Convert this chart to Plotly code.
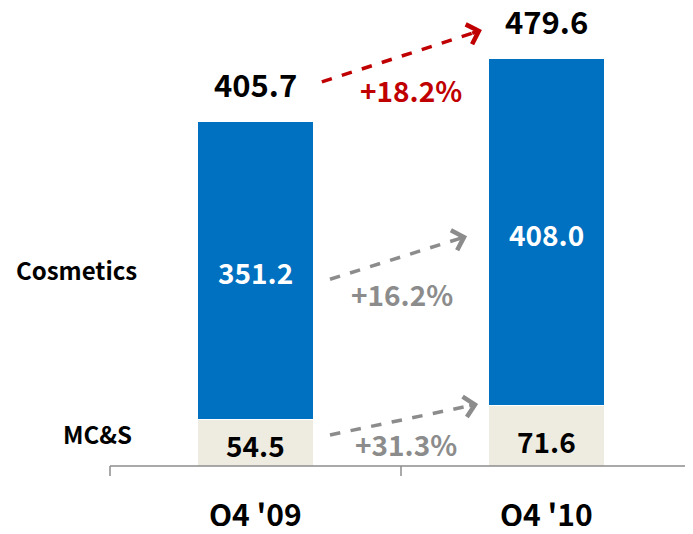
import plotly.graph_objects as go

categories = ["Q4 '09", "Q4 '10"]
mcs = [54.5, 71.6]
cosmetics = [351.2, 408.0]
totals = [405.7, 479.6]
growth_labels = ["+18.2%", "+16.2%", "+31.3%"]
series_names = ["MC&S", "Cosmetics"]

BLUE = "#0070C0"
BEIGE = "#EEECE1"
RED = "#C00000"
GRAY = "#8C8C8C"
FONT = "Noto Sans CJK KR, Noto Sans, sans-serif"

xs = [0, 1]
fig = go.Figure()
fig.add_trace(go.Bar(x=xs, y=mcs, width=0.4, marker=dict(color=BEIGE, line=dict(color="white", width=1)),
                     hoverinfo="skip", name=series_names[0]))
fig.add_trace(go.Bar(x=xs, y=cosmetics, width=0.4, marker=dict(color=BLUE, line=dict(color="white", width=1)),
                     hoverinfo="skip", name=series_names[1]))

ann = []
shapes = []
# value labels
for i in range(2):
    ann.append(dict(x=xs[i], y=totals[i], text=f"<b>{totals[i]:.1f}</b>", showarrow=False,
                    yanchor="middle", yshift=38, font=dict(size=31, color="black", family=FONT)))
    ann.append(dict(x=xs[i], y=mcs[i] + cosmetics[i] / 2, text=f"<b>{cosmetics[i]:.1f}</b>", showarrow=False,
                    yanchor="middle", yshift=-2, font=dict(size=28, color="white", family=FONT)))
    ann.append(dict(x=xs[i], y=mcs[i] / 2, text=f"<b>{mcs[i]:.1f}</b>", showarrow=False,
                    yanchor="middle", yshift=-2 - 3 * i, font=dict(size=28, color="black", family=FONT)))
    ann.append(dict(x=xs[i], y=0, text=f"<b>{categories[i]}</b>", showarrow=False,
                    yanchor="middle", yshift=-47, font=dict(size=30, color="black", family=FONT)))

# series labels on the left
ann.append(dict(x=-0.165, xref="paper", y=mcs[0] + cosmetics[0] / 2, text="<b>Cosmetics</b>", showarrow=False,
                xanchor="left", yanchor="middle", yshift=1, font=dict(size=24, color="black", family=FONT)))
ann.append(dict(x=-0.084, xref="paper", y=mcs[0] / 2, text="<b>MC&S</b>", showarrow=False,
                xanchor="left", yanchor="middle", yshift=9, font=dict(size=24, color="black", family=FONT)))

# growth arrows: (start x, start y, tip x, tip y, color, label x, label y)
arrows = [
    (0.228, totals[0] + 46, 0.778, totals[1] + 33, RED, 0.534, totals[0] + 37),
    (0.256, mcs[0] + cosmetics[0] * 0.47, 0.727, mcs[1] + cosmetics[1] * 0.487, GRAY, 0.503, mcs[0] + cosmetics[0] * 0.42),
    (0.256, mcs[0] * 0.67, 0.765, mcs[1] + 1.3, GRAY, 0.517, mcs[0] * 0.475),
]
for (sx, sy, tx, ty, col, lx, ly), lab in zip(arrows, growth_labels):
    ex = sx + (tx - sx) * 0.96
    ey = sy + (ty - sy) * 0.96
    shapes.append(dict(type="line", xref="x", yref="y", x0=sx, y0=sy, x1=ex, y1=ey,
                       line=dict(color=col, width=3.5, dash="dash")))
    ann.append(dict(x=tx, y=ty, ax=sx + (tx - sx) * 0.93, ay=sy + (ty - sy) * 0.93, axref="x", ayref="y",
                    showarrow=True, arrowhead=4, arrowsize=1.15, arrowwidth=3.5, arrowcolor=col, text=""))
    ann.append(dict(x=lx, y=ly, text=f"<b>{lab}</b>", showarrow=False, yanchor="middle",
                    font=dict(size=28, color=col, family=FONT)))

# baseline axis with ticks (paper coordinates so they are not clipped)
shapes.append(dict(type="line", xref="paper", yref="paper", x0=0, x1=1, y0=0, y1=0,
                   line=dict(color="#8C8C8C", width=1.5)))
for tx in [0, 0.5, 1]:
    shapes.append(dict(type="line", xref="paper", yref="paper", x0=tx, x1=tx, y0=0, y1=-0.022,
                       line=dict(color="#8C8C8C", width=1.5)))

fig.update_layout(
    barmode="stack",
    width=685, height=518,
    margin=dict(l=102, r=1, t=0, b=60),
    paper_bgcolor="white", plot_bgcolor="white",
    showlegend=False,
    xaxis=dict(range=[-0.5, 1.5], visible=False, fixedrange=True),
    yaxis=dict(range=[0, 538.6], visible=False, fixedrange=True),
    annotations=ann, shapes=shapes,
)
fig.write_html("out.html")
